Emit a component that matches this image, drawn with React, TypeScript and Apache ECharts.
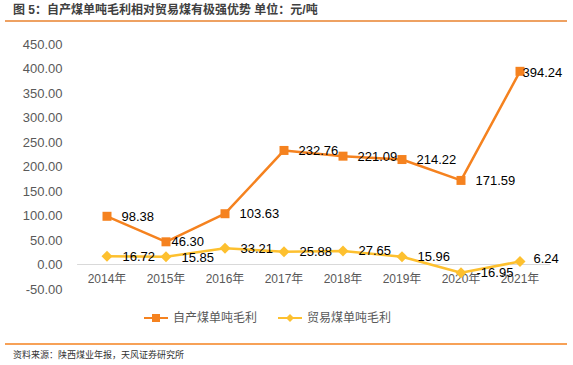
import React, { useEffect, useRef } from "react";
import * as echarts from "echarts";

const categories = ["2014年", "2015年", "2016年", "2017年", "2018年", "2019年", "2020年", "2021年"];
const selfProduced = [98.38, 46.3, 103.63, 232.76, 221.09, 214.22, 171.59, 394.24];
const trade = [16.72, 15.85, 33.21, 25.88, 27.65, 15.96, -16.95, 6.24];
const seriesNames = ["自产煤单吨毛利", "贸易煤单吨毛利"];
const titleText = "图 5：自产煤单吨毛利相对贸易煤有极强优势 单位：元/吨";
const sourceText = "资料来源：陕西煤业年报，天风证券研究所";

const ORANGE = "#F5821F";
const YELLOW = "#FDC02F";
const FONT = "'Liberation Sans', 'Noto Sans CJK SC', Arial, sans-serif";

export default function App() {
  const ref = useRef<HTMLDivElement>(null);
  useEffect(() => {
    if (!ref.current) return;
    const chart = echarts.init(ref.current, null, { renderer: "svg" });
    const orangeOffsets: Record<number, number[]> = { 1: [-9, 0], 7: [-12, 1] };
    const yellowOffsets: Record<number, number[]> = { 1: [0, 1], 7: [-2, -3] };
    const labelBase = {
      show: true,
      position: "right",
      distance: 10,
      color: "#000",
      fontSize: 13,
      fontFamily: FONT,
      formatter: (p: any) => Number(p.value).toFixed(2),
    };
    chart.setOption({
      animation: false,
      textStyle: { fontFamily: FONT },
      grid: { left: 77.5, right: 23.5, top: 44, bottom: 76, containLabel: false },
      graphic: [
        {
          type: "text",
          left: 13,
          top: 4,
          style: { text: titleText, fontSize: 12, fontWeight: "bold", fill: "#404040", fontFamily: FONT },
        },
        { type: "line", shape: { x1: 5, y1: 21, x2: 567, y2: 21 }, style: { stroke: "#E8822E", lineWidth: 1.5 } },
        { type: "line", shape: { x1: 5, y1: 344, x2: 567, y2: 344 }, style: { stroke: "#F5821F", lineWidth: 1.5 } },
        {
          type: "text",
          left: 13,
          top: 350,
          style: { text: sourceText, fontSize: 9, fill: "#333", fontFamily: FONT },
        },
      ],
      legend: {
        left: 138,
        top: 307,
        itemWidth: 24,
        itemHeight: 10,
        itemGap: 20,
        textStyle: { fontSize: 12, color: "#595959", fontFamily: FONT },
        data: seriesNames,
      },
      xAxis: {
        type: "category",
        data: categories,
        boundaryGap: true,
        axisLine: { onZero: true, lineStyle: { color: "#D9D9D9", width: 1 } },
        axisTick: { show: false },
        axisLabel: { color: "#595959", fontSize: 12, margin: -16, fontFamily: FONT },
      },
      yAxis: {
        type: "value",
        min: -50,
        max: 450,
        interval: 50,
        axisLine: { show: false },
        axisTick: { show: false },
        splitLine: { show: false },
        axisLabel: {
          color: "#595959",
          fontSize: 13,
          margin: 15,
          fontFamily: FONT,
          formatter: (v: number) => v.toFixed(2),
        },
      },
      series: [
        {
          name: seriesNames[0],
          type: "line",
          symbol: "rect",
          symbolSize: 9,
          itemStyle: { color: ORANGE },
          lineStyle: { color: ORANGE, width: 2.5 },
          label: labelBase,
          data: selfProduced.map((v, i) =>
            orangeOffsets[i] ? { value: v, label: { offset: orangeOffsets[i] } } : v
          ),
        },
        {
          name: seriesNames[1],
          type: "line",
          symbol: "diamond",
          symbolSize: 11,
          itemStyle: { color: YELLOW },
          lineStyle: { color: YELLOW, width: 2.5 },
          label: labelBase,
          data: trade.map((v, i) =>
            yellowOffsets[i] ? { value: v, label: { offset: yellowOffsets[i] } } : v
          ),
        },
      ],
    });
    return () => chart.dispose();
  }, []);
  return <div ref={ref} style={{ width: 573, height: 365, position: "absolute", left: 0, top: 0 }} />;
}
